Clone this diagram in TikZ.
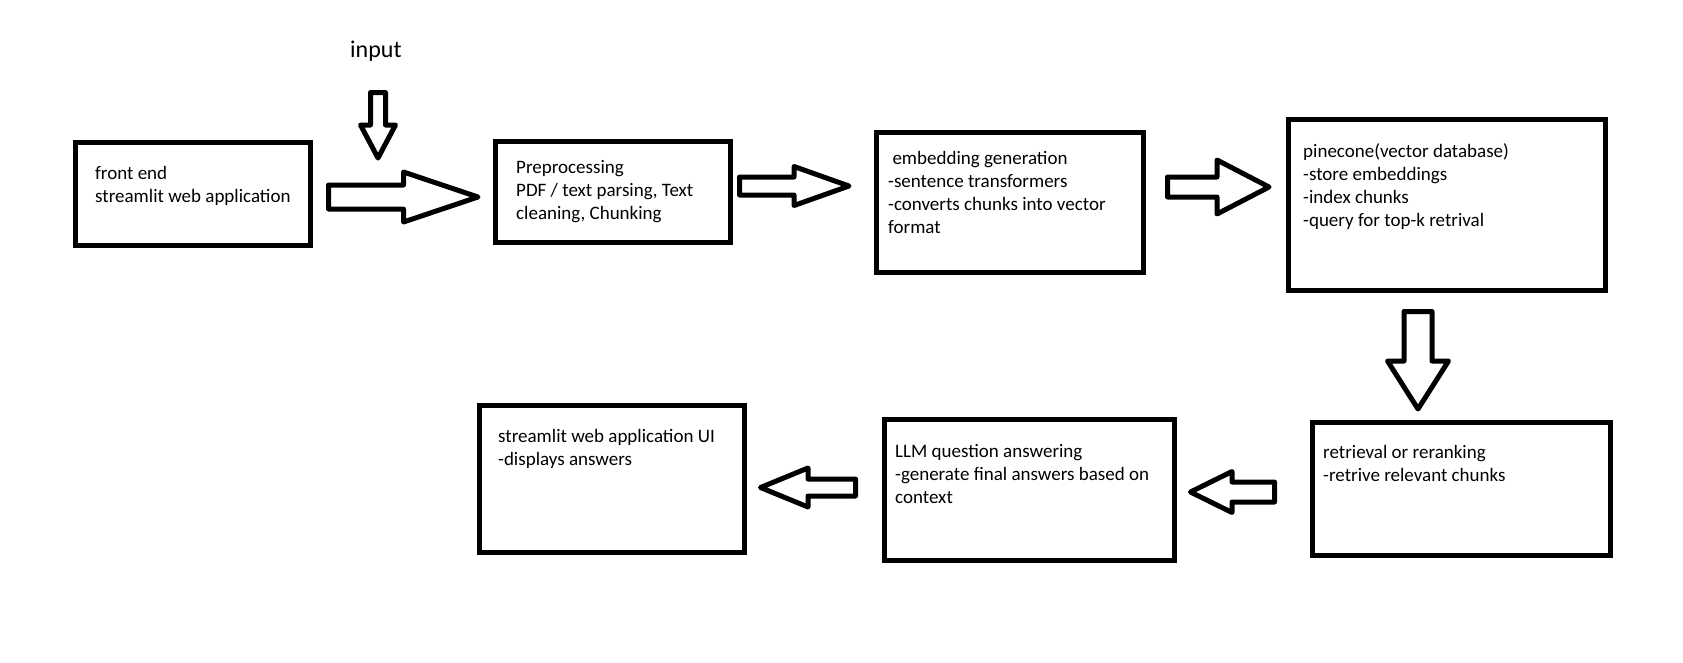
\documentclass[tikz,border=0pt]{standalone}
\usepackage{fontspec}
\setmainfont{Carlito}
\usetikzlibrary{calc, positioning}

\tikzset{
  box/.style={draw, line width=5pt, inner sep=0pt, anchor=north west},
  txt/.style={anchor=north west, inner sep=0pt, align=left, font=\fontsize{19}{23}\selectfont},
  fat/.style={draw, line width=5pt, line join=round, fill=white},
}

% block arrow: tail, tip, shaft half width, head half width, head length
\newcommand{\fatarrow}[5]{%
  \coordinate (hb) at ($(#2)!#5pt!(#1)$);
  \draw[fat] ($(#1)!#3pt!90:(#2)$) -- ($(hb)!#3pt!90:(#2)$) -- ($(hb)!#4pt!90:(#2)$) -- (#2)
    -- ($(hb)!#4pt!-90:(#2)$) -- ($(hb)!#3pt!-90:(#2)$) -- ($(#1)!#3pt!-90:(#2)$) -- cycle;
}

\begin{document}
\begin{tikzpicture}[x=1pt, y=-1pt]
			\useasboundingbox (0,0) rectangle (1683,662);

			% boxes
			\node[box, minimum width=235, minimum height=103] (front) at (72.5,139.5) {};
			\node[box, minimum width=235, minimum height=101] (prep) at (492.5,138.5) {};
			\node[box, minimum width=267, minimum height=140] (embed) at (873.5,129.5) {};
			\node[box, minimum width=317, minimum height=171] (pine) at (1285.5,116.5) {};
			\node[box, minimum width=298, minimum height=133] (retr) at (1309.5,419.5) {};
			\node[box, minimum width=290, minimum height=141] (llm) at (881.5,416.5) {};
			\node[box, minimum width=265, minimum height=147] (ui) at (476.5,402.5) {};

			% texts
			\node[txt] (front-t) at (95,163) {\strut front end\\streamlit web application};
			\node[txt] (prep-t) at (516,157) {\strut Preprocessing\\PDF / text parsing, Text\\cleaning, Chunking};
			\node[txt] (embed-t) at (888,148) {\strut~embedding generation\\-sentence transformers\\-converts chunks into vector\\format};
			\node[txt] (pine-t) at (1303,141) {\strut pinecone(vector database)\\-store embeddings\\-index chunks\\-query for top-k retrival};
			\node[txt] (retr-t) at (1323,442) {\strut retrieval or reranking\\-retrive relevant chunks};
			\node[txt] (llm-t) at (895,441) {\strut LLM question answering\\-generate final answers based on\\context};
			\node[txt] (ui-t) at (498,426) {\strut streamlit web application UI\\-displays answers};
			\node[anchor=base west, inner sep=0pt, font=\fontsize{24}{29}\selectfont] (input) at (350,57) {input};

			% arrow ends
			\coordinate (in-s) at (378,92.5);
			\coordinate (in-e) at (378,158);
			\coordinate (a1-s) at (328.5,197);
			\coordinate (a1-e) at (478,197);
			\coordinate (a2-s) at (739.5,186);
			\coordinate (a2-e) at (849,186);
			\coordinate (a3-s) at (1167.5,187);
			\coordinate (a3-e) at (1269,187);
			\coordinate (a4-s) at (1418,311.5);
			\coordinate (a4-e) at (1418,409);
			\coordinate (a5-s) at (1274.5,492);
			\coordinate (a5-e) at (1190.5,492);
			\coordinate (a6-s) at (855.5,487.5);
			\coordinate (a6-e) at (760.5,487.5);

			\fatarrow{in-s}{in-e}{7.5}{17.5}{33}
			\fatarrow{a1-s}{a1-e}{12}{25}{74.5}
			\fatarrow{a2-s}{a2-e}{9}{19.5}{55}
			\fatarrow{a3-s}{a3-e}{10}{27}{52}
			\fatarrow{a4-s}{a4-e}{14}{30.5}{48}
			\fatarrow{a5-s}{a5-e}{10}{20.5}{41.5}
			\fatarrow{a6-s}{a6-e}{8.5}{19.5}{47.5}
		\end{tikzpicture}
\end{document}
